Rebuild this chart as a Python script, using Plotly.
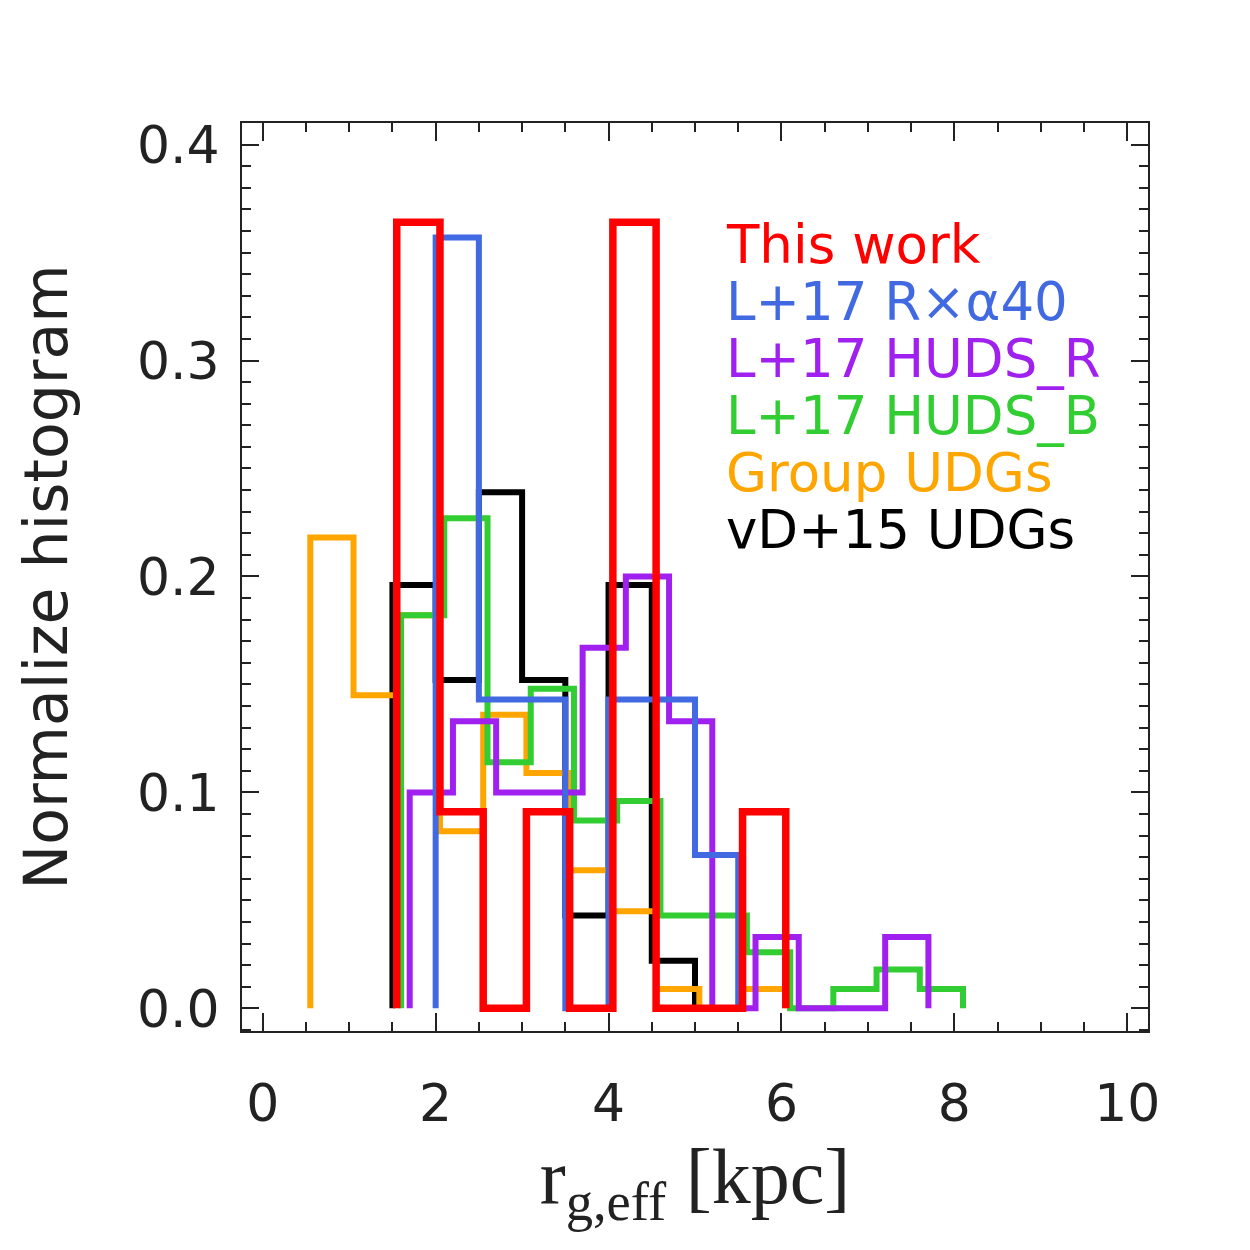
import plotly.graph_objects as go

# ---- data ----
bin_width = 0.5

this_work_start = 1.55
this_work_vals = [0.364, 0.091, 0.0, 0.091, 0.0, 0.364, 0.0, 0.0, 0.091]

rxa40_start = 2.0
rxa40_vals = [0.357, 0.143, 0.143, 0.0, 0.143, 0.143, 0.071]

huds_r_start = 1.7
huds_r_vals = [0.100, 0.133, 0.100, 0.100, 0.167, 0.200, 0.133, 0.0, 0.033, 0.0, 0.0, 0.033]

huds_b_start = 1.6
huds_b_vals = [0.182, 0.227, 0.114, 0.148, 0.087, 0.096, 0.043, 0.043, 0.026, 0.0, 0.009, 0.018, 0.009]

group_start = 0.55
group_vals = [0.218, 0.145, 0.182, 0.082, 0.136, 0.109, 0.064, 0.045, 0.009, 0.0, 0.009]

vd15_start = 1.5
vd15_vals = [0.196, 0.152, 0.239, 0.152, 0.043, 0.196, 0.022]

labels = ["This work", "L+17 R×α40", "L+17 HUDS_R", "L+17 HUDS_B", "Group UDGs", "vD+15 UDGs"]
colors = ["#FF0000", "#4169E1", "#A020F0", "#32CD32", "#FFA500", "#000000"]

x_ticks = [0, 2, 4, 6, 8, 10]
y_ticks = [0.0, 0.1, 0.2, 0.3, 0.4]
y_tick_text = ["0.0", "0.1", "0.2", "0.3", "0.4"]


def step_xy(start, vals, width):
    edges = [start + width * k for k in range(len(vals) + 1)]
    xs = [edges[0]] + edges[:-1] + [edges[-1], edges[-1]]
    ys = [0.0] + list(vals) + [vals[-1], 0.0]
    return xs, ys


series = [
    (this_work_start, this_work_vals),
    (rxa40_start, rxa40_vals),
    (huds_r_start, huds_r_vals),
    (huds_b_start, huds_b_vals),
    (group_start, group_vals),
    (vd15_start, vd15_vals),
]

fig = go.Figure()
# draw back-to-front: black, orange, green, purple, blue, red
order = [5, 4, 3, 2, 1, 0]
for i in order:
    s, v = series[i]
    xs, ys = step_xy(s, v, bin_width)
    fig.add_trace(go.Scatter(
        x=xs, y=ys, mode="lines", line_shape="hv",
        line=dict(color=colors[i], width=7.5 if i == 0 else 6),
        name=labels[i], showlegend=False, hoverinfo="skip",
    ))

# legend as coloured text
leg_x = 5.34
leg_y0 = 0.3537
leg_dy = 0.0264
for i, lab in enumerate(labels):
    fig.add_annotation(
        x=leg_x, y=leg_y0 - i * leg_dy, xref="x", yref="y",
        text=lab, showarrow=False, xanchor="left", yanchor="middle",
        font=dict(family="DejaVu Sans", size=53, color=colors[i]),
    )

axis_common = dict(
    showline=True, linecolor="#222222", linewidth=2, mirror="ticks",
    ticks="inside", tickwidth=2, tickcolor="#222222",
    showgrid=False, zeroline=False,
    tickfont=dict(family="DejaVu Sans", size=52, color="#222222"),
)

fig.update_xaxes(
    range=[-0.24, 10.24], tickvals=x_ticks, ticklen=18,
    minor=dict(dtick=0.5, tick0=0, ticks="inside", ticklen=9, tickwidth=2, tickcolor="#222222"),
    ticklabelstandoff=26,
    title=dict(text="r<sub>g,eff</sub> [kpc]", standoff=14,
               font=dict(family="Liberation Serif", size=78, color="#222222")),
    **axis_common,
)
fig.update_yaxes(
    range=[-0.0105, 0.41], tickvals=y_ticks, ticktext=y_tick_text, ticklen=17,
    minor=dict(dtick=0.01, tick0=0, ticks="inside", ticklen=9, tickwidth=2, tickcolor="#222222"),
    ticklabelstandoff=10,
    title=dict(text="Normalize histogram", standoff=50,
               font=dict(family="DejaVu Sans", size=60, color="#222222")),
    **axis_common,
)

fig.update_layout(
    width=1250, height=1250,
    margin=dict(l=242, r=102, t=123, b=219, autoexpand=False),
    paper_bgcolor="white", plot_bgcolor="white",
    showlegend=False,
)

fig.write_html("out.html")
